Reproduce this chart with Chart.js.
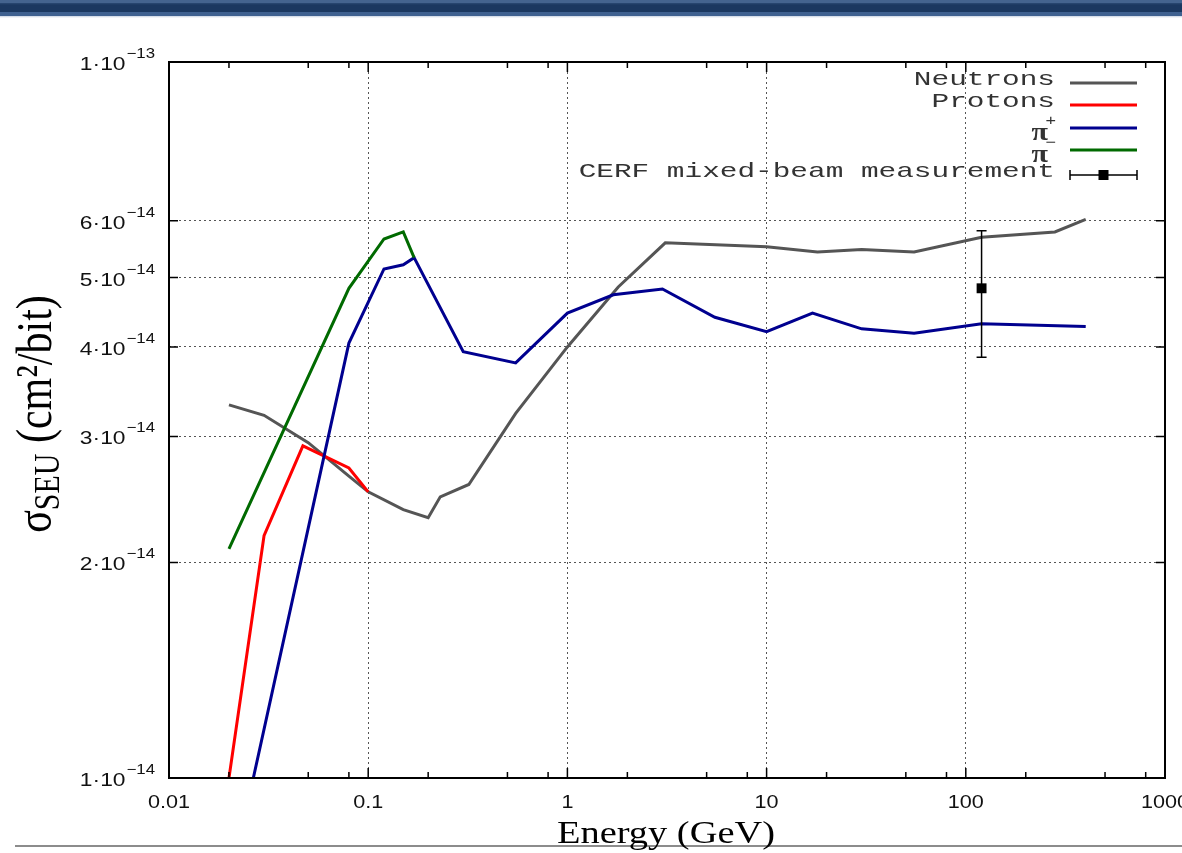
<!DOCTYPE html>
<html>
<head>
<meta charset="utf-8">
<script src="https://cdn.jsdelivr.net/npm/chart.js@4.4.1/dist/chart.umd.min.js"></script>
<style>
html, body { margin: 0; padding: 0; background: #fff; }
#wrap { position: relative; width: 1182px; height: 853px; overflow: hidden; }
#banner { position: absolute; left: 0; top: 0; width: 1182px; height: 18px;
  background: linear-gradient(to bottom, #44648f 0px, #44648f 3px, #2b4a74 3px, #1b3860 5px, #1b3860 12px, #3f6190 12px, #3f6190 16px, #c9d4e2 16px, #ffffff 18px); }
canvas { position: absolute; left: 0; top: 0; }
</style>
</head>
<body>
<div id="wrap"><canvas id="myChart" width="1182" height="853"></canvas><div id="banner"></div></div>
<script>
// energy in GeV, cross section in units of 1e-14 cm^2/bit
const neutronEnergy = [0.02, 0.03, 0.05, 0.08, 0.1, 0.15, 0.2, 0.23, 0.32, 0.55, 1, 1.8, 3.1, 10, 18, 30, 55, 120, 280, 400];
const neutronSigma  = [3.32, 3.21, 2.94, 2.64, 2.51, 2.37, 2.31, 2.47, 2.57, 3.23, 4.0, 4.85, 5.59, 5.52, 5.43, 5.47, 5.43, 5.69, 5.79, 6.03];

const protonEnergy = [0.02, 0.03, 0.047, 0.08, 0.1];
const protonSigma  = [1.0, 2.18, 2.91, 2.71, 2.51];

const piPlusEnergy = [0.02, 0.08, 0.12, 0.15, 0.17, 0.3, 0.55, 1, 1.7, 3, 5.5, 10, 17, 30, 55, 120, 400];
const piPlusSigma  = [0.70, 4.05, 5.14, 5.21, 5.33, 3.94, 3.80, 4.46, 4.73, 4.82, 4.40, 4.20, 4.46, 4.24, 4.18, 4.31, 4.27];

const piMinusEnergy = [0.02, 0.08, 0.12, 0.15, 0.17];
const piMinusSigma  = [2.09, 4.83, 5.66, 5.79, 5.33];

const cerfEnergy = [120];
const cerfSigma  = [4.83];
const cerfLow    = [3.87];
const cerfHigh   = [5.81];

const xMajorTicks = [0.01, 0.1, 1, 10, 100, 1000];
const xTickLabels = ['0.01', '0.1', '1', '10', '100', '1000'];
const xMinorSteps = [2, 5, 8];
const xGridTicks  = [0.1, 1, 10, 100];

const yTicks        = [1, 2, 3, 4, 5, 6, 10];
const yTickMantissa = ['1', '2', '3', '4', '5', '6', '1'];
const yTickExponent = ['\u221214', '\u221214', '\u221214', '\u221214', '\u221214', '\u221214', '\u221213'];
const yGridTicks    = [2, 3, 4, 5, 6];

const seriesColors = ['#555555', '#ff0000', '#00008f', '#006a00', '#000000'];
const legendText   = ['Neutrons', 'Protons', '\u03c0', '\u03c0', 'CERF mixed-beam measurement'];
const legendSup    = ['', '', '+', '\u2212', ''];

const SX = 1.2; // the whole figure is stretched sideways

function points(xs, ys) {
    return xs.map((x, i) => ({ x: x, y: ys[i] }));
}

function lineSet(label, xs, ys, color, order) {
    return {
        label: label, data: points(xs, ys), borderColor: color, backgroundColor: color,
        borderWidth: 3, pointRadius: 0, tension: 0, fill: false, order: order
    };
}

function wideText(ctx, text, x, y, align, sx) {
    ctx.save();
    ctx.translate(x, y);
    ctx.scale(sx || SX, 1);
    ctx.textAlign = align;
    ctx.fillText(text, 0, 0);
    ctx.restore();
}

const decorations = {
    id: 'decorations',
    afterDatasetsDraw(chart) {
        const ctx = chart.ctx, xs = chart.scales.x, ys = chart.scales.y;
        ctx.save();
        ctx.strokeStyle = '#000';
        ctx.lineWidth = 1.5;
        cerfEnergy.forEach((e, i) => {
            const px = xs.getPixelForValue(e);
            const lo = ys.getPixelForValue(cerfLow[i]);
            const hi = ys.getPixelForValue(cerfHigh[i]);
            ctx.beginPath();
            ctx.moveTo(px, lo); ctx.lineTo(px, hi);
            ctx.moveTo(px - 5, lo); ctx.lineTo(px + 5, lo);
            ctx.moveTo(px - 5, hi); ctx.lineTo(px + 5, hi);
            ctx.stroke();
        });
        ctx.restore();
    },
    afterDraw(chart) {
        const ctx = chart.ctx, a = chart.chartArea, xs = chart.scales.x, ys = chart.scales.y;
        ctx.save();

        // frame
        ctx.strokeStyle = '#000';
        ctx.lineWidth = 2;
        ctx.strokeRect(a.left, a.top, a.right - a.left, a.bottom - a.top);

        // inward ticks
        ctx.lineWidth = 1.5;
        ctx.beginPath();
        xMajorTicks.forEach(v => {
            const px = xs.getPixelForValue(v);
            ctx.moveTo(px, a.bottom); ctx.lineTo(px, a.bottom - 10);
            ctx.moveTo(px, a.top); ctx.lineTo(px, a.top + 10);
            if (v < 1000) {
                xMinorSteps.forEach(m => {
                    const pm = xs.getPixelForValue(v * m);
                    ctx.moveTo(pm, a.bottom); ctx.lineTo(pm, a.bottom - 6);
                    ctx.moveTo(pm, a.top); ctx.lineTo(pm, a.top + 6);
                });
            }
        });
        yTicks.forEach(v => {
            const py = ys.getPixelForValue(v);
            ctx.moveTo(a.left, py); ctx.lineTo(a.left + 9, py);
            ctx.moveTo(a.right, py); ctx.lineTo(a.right - 9, py);
        });
        ctx.stroke();

        // x tick labels
        ctx.fillStyle = '#111';
        ctx.font = '18px "Liberation Sans", Arial, sans-serif';
        ctx.textBaseline = 'alphabetic';
        xMajorTicks.forEach((v, i) => {
            wideText(ctx, xTickLabels[i], xs.getPixelForValue(v), a.bottom + 30, 'center');
        });

        // y tick labels with exponents
        yTicks.forEach((v, i) => {
            const py = ys.getPixelForValue(v);
            ctx.font = '14px "Liberation Sans", Arial, sans-serif';
            const wExp = ctx.measureText(yTickExponent[i]).width * SX;
            wideText(ctx, yTickExponent[i], a.left - 14 - wExp, py - 4, 'left');
            ctx.font = '19px "Liberation Sans", Arial, sans-serif';
            wideText(ctx, yTickMantissa[i] + '\u00b710', a.left - 15 - wExp, py + 8, 'right');
        });

        // bottom rule of the slide
        ctx.strokeStyle = '#8c8c8c';
        ctx.lineWidth = 2;
        ctx.beginPath();
        ctx.moveTo(15, 846); ctx.lineTo(1182, 846);
        ctx.stroke();

        // x title
        ctx.fillStyle = '#000';
        ctx.font = '32px "Liberation Serif", "Times New Roman", serif';
        wideText(ctx, 'Energy (GeV)', (a.left + a.right) / 2 - 1, 843, 'center');

        // y title, rotated
        ctx.save();
        ctx.translate(51, 414);
        ctx.scale(SX, 1);
        ctx.rotate(-Math.PI / 2);
        const big = '42px "Liberation Serif", "Times New Roman", serif';
        const small = '30px "Liberation Serif", "Times New Roman", serif';
        ctx.font = big;
        const w1 = ctx.measureText('\u03c3').width;
        const w3 = ctx.measureText(' (cm\u00b2/bit)').width;
        ctx.font = small;
        const w2 = ctx.measureText('SEU').width;
        let tx = -(w1 + w2 + w3) / 2;
        ctx.textAlign = 'left';
        ctx.font = big;
        ctx.fillText('\u03c3', tx, 0);
        tx += w1;
        ctx.font = small;
        ctx.fillText('SEU', tx, 7);
        tx += w2;
        ctx.font = big;
        ctx.fillText(' (cm\u00b2/bit)', tx, 0);
        ctx.restore();

        // key
        const rowY = [83, 105, 128, 150, 175];
        const textRight = 1055, lineL = 1070, lineR = 1137;
        ctx.fillStyle = '#333';
        legendText.forEach((t, i) => {
            const y = rowY[i];
            if (legendSup[i]) {
                ctx.font = 'bold 25px "Liberation Serif", serif';
                wideText(ctx, t, textRight - 7, y + 12, 'right');
                ctx.font = '15px "Liberation Sans", sans-serif';
                wideText(ctx, legendSup[i], textRight + 1, y - 3, 'right');
            } else {
                ctx.font = '21px "Liberation Mono", "Courier New", monospace';
                wideText(ctx, t, textRight, y + 2, 'right', 1.4);
            }
            ctx.strokeStyle = seriesColors[i];
            ctx.lineWidth = i === 4 ? 1.5 : 3;
            ctx.beginPath();
            ctx.moveTo(lineL, y); ctx.lineTo(lineR, y);
            if (i === 4) {
                ctx.moveTo(lineL, y - 5); ctx.lineTo(lineL, y + 5);
                ctx.moveTo(lineR, y - 5); ctx.lineTo(lineR, y + 5);
            }
            ctx.stroke();
            if (i === 4) {
                ctx.fillStyle = '#000';
                ctx.fillRect((lineL + lineR) / 2 - 5, y - 5, 10, 10);
                ctx.fillStyle = '#333';
            }
        });

        ctx.restore();
    }
};

const gridColor = '#555555';

new Chart(document.getElementById('myChart').getContext('2d'), {
    type: 'line',
    data: {
        datasets: [
            lineSet('Neutrons', neutronEnergy, neutronSigma, seriesColors[0], 4),
            lineSet('Protons', protonEnergy, protonSigma, seriesColors[1], 3),
            lineSet('\u03c0+', piPlusEnergy, piPlusSigma, seriesColors[2], 2),
            lineSet('\u03c0\u2212', piMinusEnergy, piMinusSigma, seriesColors[3], 1),
            {
                type: 'scatter',
                label: 'CERF mixed-beam measurement',
                data: points(cerfEnergy, cerfSigma),
                pointStyle: 'rect', pointRadius: 7, borderWidth: 0,
                backgroundColor: '#000', borderColor: '#000', order: 0
            }
        ]
    },
    options: {
        responsive: false,
        animation: false,
        devicePixelRatio: 1,
        layout: { padding: { left: 169, right: 17, top: 62, bottom: 75 } },
        plugins: { legend: { display: false }, tooltip: { enabled: false } },
        scales: {
            x: {
                type: 'logarithmic', min: 0.01, max: 1000,
                afterBuildTicks: scale => { scale.ticks = xGridTicks.map(v => ({ value: v })); },
                ticks: { display: false },
                grid: { color: gridColor, lineWidth: 1, drawTicks: false },
                border: { display: false, dash: [2, 3] }
            },
            y: {
                type: 'logarithmic', min: 1, max: 10,
                afterBuildTicks: scale => { scale.ticks = yGridTicks.map(v => ({ value: v })); },
                ticks: { display: false },
                grid: { color: gridColor, lineWidth: 1, drawTicks: false },
                border: { display: false, dash: [2, 3] }
            }
        }
    },
    plugins: [decorations]
});
</script>
</body>
</html>
